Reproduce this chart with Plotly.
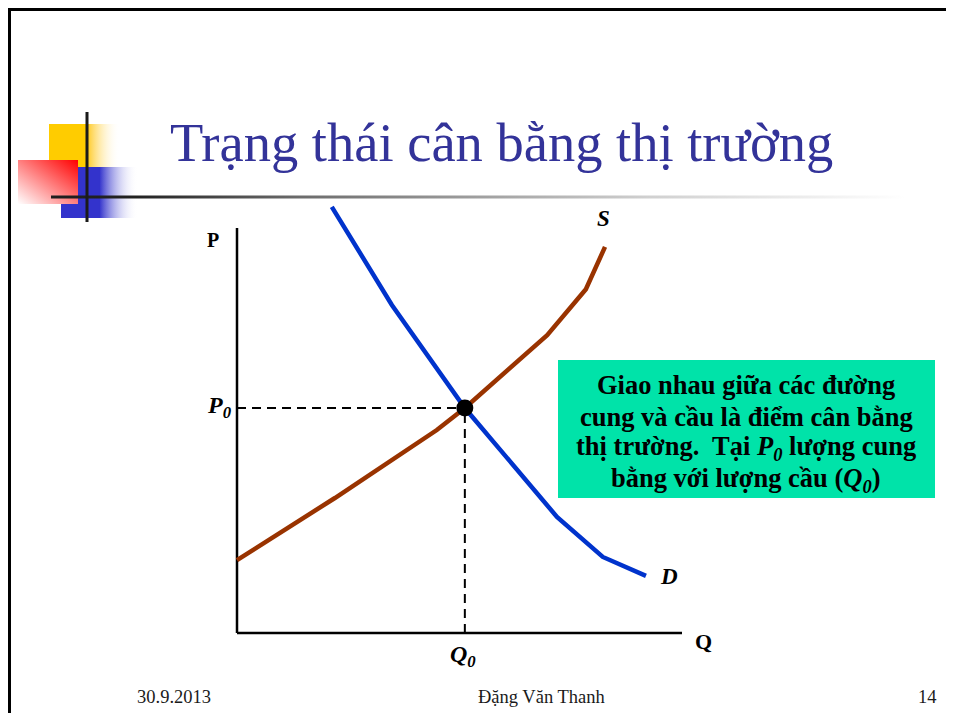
import base64
import plotly.graph_objects as go

# ---------------- data ----------------
demand_q = [21.3, 34.8, 51.2, 71.9, 82.2, 91.9]
demand_p = [94.7, 72.9, 50.0, 25.8, 16.9, 12.7]
supply_q = [0.0, 22.0, 44.9, 51.2, 69.7, 78.4, 82.7]
supply_p = [16.2, 30.0, 45.1, 50.0, 66.2, 76.4, 85.8]
q0 = 51.2
p0 = 50.0
q_axis_max = 100
p_axis_max = 90

title_text = "Trạng thái cân bằng thị trường"
box_lines = ["Giao nhau giữa các đường",
             "cung và cầu là điểm cân bằng",
             "thị trường.  Tại <i>P<sub>0</sub></i> lượng cung",
             "bằng với lượng cầu (<i>Q<sub>0</sub></i>)"]
footer_left = "30.9.2013"
footer_mid = "Đặng Văn Thanh"
footer_right = "14"

# ---------------- layout helpers ----------------
PAGE_W, PAGE_H = 954, 721
OFF = 8                           # browser body margin
W, H = PAGE_W - 2 * OFF, PAGE_H - 2 * OFF
OX, OY = 237 - OFF, 633 - OFF     # figure-pixel position of axis origin
SX, SY = 4.45, 4.5                # pixels per unit


def px(x):
    return (x - OFF) / W


def py(y):
    return 1 - (y - OFF) / H


SERIF = "Liberation Serif"

fig = go.Figure()

# axis lines
fig.add_trace(go.Scatter(x=[0, 0], y=[p_axis_max, 0], mode="lines",
                         line=dict(color="black", width=2.5), hoverinfo="skip"))
fig.add_trace(go.Scatter(x=[0, q_axis_max], y=[0, 0], mode="lines",
                         line=dict(color="black", width=2.5), hoverinfo="skip"))
# dashed guides
fig.add_trace(go.Scatter(x=[0, q0], y=[p0, p0], mode="lines",
                         line=dict(color="black", width=2, dash="9px,6px"), hoverinfo="skip"))
fig.add_trace(go.Scatter(x=[q0, q0], y=[0, p0], mode="lines",
                         line=dict(color="black", width=2, dash="9px,6px"), hoverinfo="skip"))
# curves
fig.add_trace(go.Scatter(x=supply_q, y=supply_p, mode="lines",
                         line=dict(color="#993300", width=4.5), hoverinfo="skip"))
fig.add_trace(go.Scatter(x=demand_q, y=demand_p, mode="lines",
                         line=dict(color="#0033CC", width=4.5), hoverinfo="skip"))
# equilibrium
fig.add_trace(go.Scatter(x=[q0], y=[p0], mode="markers",
                         marker=dict(color="black", size=17), hoverinfo="skip"))

# ---------------- decorative logo (SVG, in page pixels) ----------------
svg = f'''<svg xmlns="http://www.w3.org/2000/svg" width="{W}" height="{H}" viewBox="{OFF} {OFF} {W} {H}">
<defs>
<linearGradient id="gy" x1="0" y1="0" x2="1" y2="0">
<stop offset="0" stop-color="#FFCC00"/><stop offset="0.54" stop-color="#FFCC00"/>
<stop offset="0.58" stop-color="#FFD34A"/><stop offset="1" stop-color="#FFFFFF" stop-opacity="0"/>
</linearGradient>
<linearGradient id="gb" x1="0" y1="0" x2="1" y2="0">
<stop offset="0" stop-color="#3333CC"/><stop offset="0.5" stop-color="#3333CC"/>
<stop offset="1" stop-color="#FFFFFF" stop-opacity="0"/>
</linearGradient>
<linearGradient id="gr" x1="0" y1="1" x2="1" y2="0">
<stop offset="0" stop-color="#FFFFFF"/><stop offset="1" stop-color="#FF0000"/>
</linearGradient>
<linearGradient id="gl" x1="51" y1="0" x2="905" y2="0" gradientUnits="userSpaceOnUse">
<stop offset="0" stop-color="#1E1E1E"/><stop offset="0.1" stop-color="#222222"/>
<stop offset="0.29" stop-color="#6B6B6B"/><stop offset="0.7" stop-color="#D0D0D0"/>
<stop offset="1" stop-color="#FFFFFF"/>
</linearGradient>
</defs>
<rect x="49" y="124" width="71" height="44" fill="url(#gy)"/>
<rect x="61" y="167" width="77" height="51" fill="url(#gb)"/>
<rect x="18" y="160" width="60" height="44" fill="url(#gr)"/>
<rect x="51" y="195.5" width="854" height="3" fill="url(#gl)"/>
<rect x="85.5" y="112" width="3" height="110" fill="#1A1A1A"/>
</svg>'''
uri = "data:image/svg+xml;base64," + base64.b64encode(svg.encode("utf-8")).decode("ascii")

images = [dict(source=uri, xref="paper", yref="paper", x=0, y=1, sizex=1, sizey=1,
               xanchor="left", yanchor="top", sizing="stretch", layer="above")]

shapes = [
    # slide border (top and left)
    dict(type="line", xref="paper", yref="paper", x0=0, x1=1, y0=py(9.5), y1=py(9.5),
         line=dict(color="black", width=3)),
    dict(type="line", xref="paper", yref="paper", x0=px(9.5), x1=px(9.5), y0=py(8), y1=0,
         line=dict(color="black", width=3)),
    # callout box
    dict(type="rect", xref="paper", yref="paper", x0=px(558), x1=px(935), y0=py(360), y1=py(498),
         fillcolor="#00E3A9", line=dict(width=0), layer="above"),
]


def label(text, x, y, size, color="black"):
    return dict(text=text, x=px(x), y=py(y), xref="paper", yref="paper", showarrow=False,
                xanchor="center", yanchor="middle", align="center",
                font=dict(family=SERIF, size=size, color=color))


box_line_y = [385, 417, 448, 480]

annotations = [
    label(title_text, 502, 142, 54.5, "#333399"),
    label("<b>P</b>", 213, 240, 20),
    label("<b>Q</b>", 703, 641, 22),
    label("<b><i>P<sub>0</sub></i></b>", 219, 407, 24),
    label("<b><i>Q<sub>0</sub></i></b>", 463, 656, 24),
    label("<b><i>S</i></b>", 603, 218, 23),
    label("<b><i>D</i></b>", 669, 576, 23),
    label(footer_left, 174, 697, 18.5, "#1A1A1A"),
    label(footer_mid, 541, 697, 18.5, "#1A1A1A"),
    label(footer_right, 927, 697, 18.5, "#1A1A1A"),
]
for line_text, ly in zip(box_lines, box_line_y):
    annotations.append(label("<b>" + line_text + "</b>", 746, ly, 26.5))

fig.update_layout(
    width=W, height=H,
    margin=dict(l=0, r=0, t=0, b=0),
    paper_bgcolor="white", plot_bgcolor="rgba(0,0,0,0)",
    showlegend=False,
    xaxis=dict(range=[-OX / SX, (W - OX) / SX], visible=False, fixedrange=True, domain=[0, 1]),
    yaxis=dict(range=[(OY - H) / SY, OY / SY], visible=False, fixedrange=True, domain=[0, 1]),
    shapes=shapes, annotations=annotations, images=images,
)

fig.write_html("out.html")
